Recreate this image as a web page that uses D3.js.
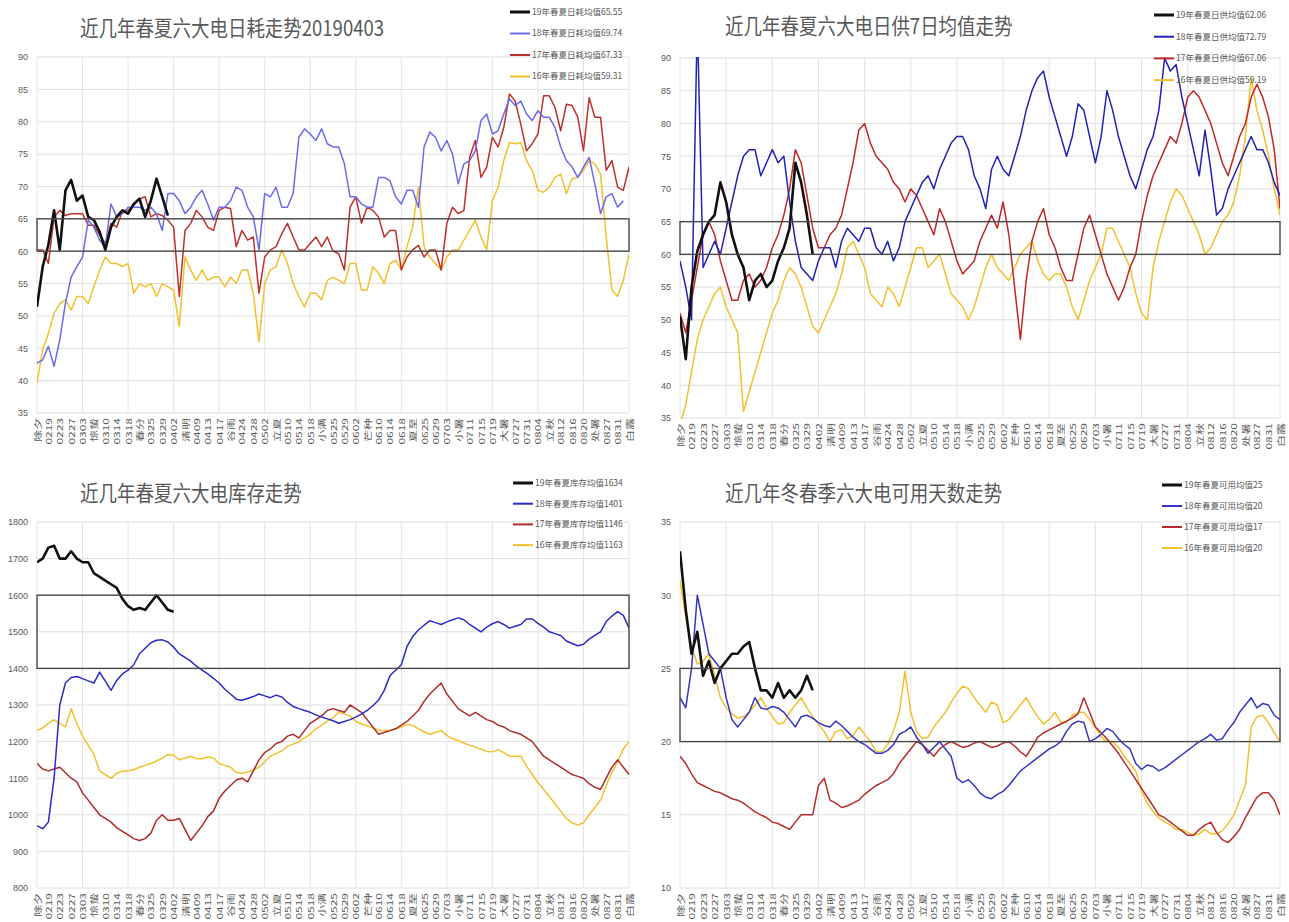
<!DOCTYPE html>
<html>
<head>
<meta charset="utf-8">
<script src="https://cdn.jsdelivr.net/npm/d3@7"></script>
<style>
  body { margin: 0; background: #ffffff; }
  svg { display: block; }
  text { font-family: "Noto Sans CJK SC", "Noto Sans", sans-serif; fill: #595959; }
</style>
</head>
<body>
<svg id="chart" width="1289" height="922"></svg>
<script>
// Category labels along the day axis (one label every 4 days)
const dateLabels = ["除夕","0219","0223","0227","0303","惊蛰","0310","0314","0318","春分","0325","0329","0402",
  "清明","0409","0413","0417","谷雨","0424","0428","0502","立夏","0510","0514","0518","小满","0525","0529",
  "0602","芒种","0610","0614","0618","夏至","0625","0629","0703","小暑","0711","0715","0719","大暑","0727",
  "0731","0804","立秋","0812","0816","0820","处暑","0827","0831","白露"];

const DAY_STEP = 2;    // every series is sampled once per 2 days
const LABEL_STEP = 4;  // one category label every 4 days
const GRID_STEP = 16;  // vertical gridline every 16 days
const LAST_DAY = 208;

// ---- 日耗 (daily consumption, 万吨) ----
const consumption19 = [51.4, 57.6, 61, 66.3, 60.2, 69.4, 71, 67.8, 68.6, 65.3, 64.8, 63, 60.2, 63.7, 65.3, 66.3,
  65.8, 67.3, 68.1, 65.3, 67.8, 71.2, 68.4, 65.5];
const consumption18 = [42.7, 43.2, 45.3, 42.2, 46.3, 52, 56, 57.6, 59.1, 64.8,
  63.7, 61.7, 60.7, 67.3, 65.3, 65.8, 66.8, 66.8, 66.8, 66.3,
  66.8, 65.8, 63.2, 68.9, 68.9, 67.8, 65.8, 66.8, 68.4, 69.4,
  67.3, 64.8, 66.8, 66.8, 67.8, 69.9, 69.4, 66.8, 65.3, 60.2,
  68.9, 68.4, 69.9, 66.8, 66.8, 68.9, 77.6, 78.9, 78.1, 77.1,
  78.9, 76.6, 76.1, 76.1, 73.5, 68.4, 68.4, 67.3, 66.8, 66.8,
  71.4, 71.4, 70.9, 68.4, 67.3, 69.4, 69.4, 66.8, 76.1, 78.4,
  77.6, 75.5, 77.1, 75, 70.4, 73.5, 74, 75.5, 80.2, 81.2,
  78.1, 78.6, 81.2, 83.5, 82.5, 83.2, 81.2, 80.2, 81.7, 80.7,
  80.7, 79.1, 76.1, 74, 73, 71.4, 73, 74.5, 70.4, 65.8,
  68.4, 68.9, 66.8, 67.8];
const consumption17 = [60.2, 60.2, 58.1, 65.3, 66.3, 65.5, 65.8, 65.8, 65.8, 64,
  64, 62.5, 61.2, 64.3, 63.7, 66.3, 66.3, 67.1, 68.1, 68.4,
  65.3, 65.8, 65.5, 64.8, 63.7, 53, 63.2, 64.3, 66.3, 65.3,
  63.7, 63.2, 66.3, 66.8, 66.6, 60.7, 63.2, 61.7, 62.2, 53.5,
  59.1, 60.2, 60.7, 62.7, 64.3, 62.2, 60.2, 60.2, 61.2, 62.2,
  60.7, 62.2, 60, 59.6, 57.1, 66.8, 68.4, 64.3, 66.8, 66.3,
  65.3, 62.2, 63.2, 63.2, 57.1, 59.1, 60.2, 60.9, 59.1, 60.2,
  60.2, 57.1, 64.3, 66.8, 65.8, 66.3, 74.5, 77.1, 71.4, 73,
  77.6, 76.1, 79.1, 84.3, 83.2, 79.6, 75.5, 76.6, 78.1, 84,
  84, 82.2, 78.6, 82.7, 82.5, 80.7, 75.5, 83.7, 80.7, 80.7,
  72.5, 74, 69.9, 69.4, 73];
const consumption16 = [39.6, 44.8, 47.3, 50.4, 51.9, 52.5, 50.9, 53, 53, 51.9,
  54.5, 57.1, 59.1, 58.1, 58.1, 57.6, 58.1, 53.5, 55, 54.5,
  55, 53, 55, 54.5, 54, 48.4, 59.1, 57.1, 55.5, 57.1,
  55.5, 56, 56, 54.5, 56, 55, 57.1, 57.1, 53.5, 46,
  55, 57.1, 57.6, 60.2, 58.1, 55, 53, 51.4, 53.5, 53.5,
  52.5, 55.5, 56, 55.5, 55, 58.1, 58.1, 54, 54, 57.6,
  56.6, 55, 58.1, 58.6, 57.1, 60.7, 63.7, 69.9, 60.7, 59.1,
  58.1, 57.1, 59.1, 60.2, 60.2, 61.7, 63.2, 64.8, 62.2, 60.2,
  67.8, 69.9, 74, 76.8, 76.6, 76.8, 74, 72.5, 69.4, 69.1,
  69.9, 71.4, 71.9, 68.9, 71.2, 71.4, 72.5, 74, 73.5, 71.9,
  62.2, 54, 53, 55.5, 59.6];
const consumptionLegend = ["19年春夏日耗均值65.55", "18年春夏日耗均值69.74", "17年春夏日耗均值67.33", "16年春夏日耗均值59.31"];

// ---- 日供7日均值 (7-day average supply) ----
const supply19 = [50.5, 44, 55, 60.5, 63, 65, 66, 71, 68, 63, 60, 58, 53, 56, 57, 55, 56, 59, 61, 64, 74, 71, 66, 60];
const supply18 = [59, 55, 50, 96, 58, 60, 62, 60, 64, 68,
  72, 75, 76, 76, 72, 74, 76, 74, 75, 68,
  62, 58, 57, 56, 59, 61, 61, 58, 62, 64,
  63, 62, 64, 64, 61, 60, 62, 59, 61, 65,
  67, 69, 71, 72, 70, 73, 75, 77, 78, 78,
  76, 72, 70, 67, 73, 75, 73, 72, 75, 78,
  82, 85, 87, 88, 84, 81, 78, 75, 78, 83,
  82, 78, 74, 78, 85, 82, 78, 75, 72, 70,
  73, 76, 78, 82, 90, 88, 89, 84, 80, 76,
  72, 79, 73, 66, 67, 70, 72, 74, 76, 78,
  76, 76, 74, 71, 69];
const supply17 = [51, 48, 53, 58, 63, 65, 63, 59, 56, 53,
  53, 56, 57, 55, 56, 58, 61, 63, 66, 70,
  76, 74, 69, 64, 61, 61, 63, 64, 66, 70,
  74, 79, 80, 77, 75, 74, 73, 71, 70, 68,
  70, 69, 67, 65, 63, 67, 65, 62, 59, 57,
  58, 59, 62, 64, 66, 64, 68, 63, 55, 47,
  56, 62, 65, 67, 63, 61, 58, 56, 56, 60,
  64, 66, 63, 60, 57, 55, 53, 55, 58, 60,
  65, 69, 72, 74, 76, 78, 77, 80, 84, 85,
  84, 82, 80, 77, 74, 72, 75, 78, 80, 84,
  86, 84, 81, 76, 67];
const supply16 = [34, 37, 42, 47, 50, 52, 54, 55, 52, 50,
  48, 36, 39, 42, 45, 48, 51, 53, 56, 58,
  57, 55, 52, 49, 48, 50, 52, 54, 57, 61,
  62, 60, 58, 54, 53, 52, 55, 54, 52, 55,
  58, 61, 61, 58, 59, 60, 57, 54, 53, 52,
  50, 52, 55, 58, 60, 58, 57, 56, 58, 60,
  61, 62, 59, 57, 56, 57, 57, 55, 52, 50,
  53, 56, 58, 60, 64, 64, 62, 60, 58, 54,
  51, 50, 58, 62, 65, 68, 70, 69, 67, 65,
  63, 60, 61, 63, 65, 66, 68, 72, 78, 87,
  82, 79, 75, 70, 66];
const supplyLegend = ["19年春夏日供均值62.06", "18年春夏日供均值72.79", "17年春夏日供均值67.06", "16年春夏日供均值59.19"];

// ---- 库存 (stock, 万吨) ----
const stock19 = [1690, 1700, 1730, 1735, 1700, 1700, 1720, 1700, 1690, 1690, 1660, 1650, 1640, 1630, 1620, 1590,
  1570, 1560, 1565, 1560, 1580, 1600, 1580, 1560, 1555];
const stock18 = [970, 962, 980, 1100, 1300, 1360, 1375, 1378, 1372, 1366,
  1360, 1390, 1365, 1340, 1367, 1385, 1395, 1410, 1440, 1455,
  1470, 1477, 1478, 1472, 1458, 1440, 1430, 1420, 1406, 1395,
  1385, 1373, 1360, 1343, 1330, 1316, 1313, 1318, 1323, 1330,
  1325, 1320, 1327, 1322, 1307, 1296, 1290, 1285, 1280, 1273,
  1267, 1262, 1257, 1250, 1255, 1260, 1267, 1275, 1285, 1298,
  1313, 1340, 1380, 1395, 1410, 1460, 1487, 1505, 1518, 1530,
  1525, 1520, 1527, 1533, 1538, 1533, 1520, 1510, 1500, 1513,
  1522, 1528, 1520, 1510, 1515, 1520, 1535, 1535, 1523, 1513,
  1500, 1495, 1490, 1475, 1468, 1462, 1466, 1480, 1490, 1500,
  1528, 1543, 1555, 1545, 1510];
const stock17 = [1140, 1125, 1120, 1125, 1130, 1115, 1100, 1090, 1060, 1040,
  1020, 1000, 990, 980, 965, 955, 945, 935, 930, 935,
  950, 985, 1000, 985, 985, 990, 960, 930, 950, 970,
  995, 1010, 1045, 1065, 1080, 1095, 1100, 1090, 1120, 1150,
  1170, 1180, 1195, 1200, 1215, 1220, 1210, 1230, 1250, 1260,
  1270, 1285, 1290, 1285, 1280, 1300, 1290, 1280, 1260, 1240,
  1220, 1225, 1230, 1235, 1245, 1255, 1270, 1285, 1310, 1330,
  1345, 1360, 1330, 1310, 1290, 1280, 1270, 1280, 1270, 1260,
  1255, 1245, 1240, 1230, 1225, 1220, 1210, 1200, 1180, 1160,
  1150, 1140, 1130, 1120, 1110, 1105, 1100, 1085, 1075, 1070,
  1100, 1130, 1150, 1130, 1110];
const stock16 = [1230, 1237, 1250, 1260, 1250, 1240, 1290, 1250, 1215, 1190,
  1165, 1120, 1110, 1100, 1113, 1120, 1120, 1123, 1130, 1135,
  1140, 1147, 1155, 1165, 1163, 1150, 1155, 1160, 1153, 1153,
  1158, 1155, 1140, 1135, 1130, 1116, 1113, 1117, 1123, 1130,
  1145, 1160, 1167, 1175, 1187, 1193, 1200, 1210, 1220, 1235,
  1245, 1255, 1265, 1280, 1275, 1270, 1255, 1248, 1243, 1237,
  1232, 1230, 1230, 1235, 1240, 1247, 1245, 1235, 1227, 1220,
  1225, 1230, 1217, 1208, 1203, 1196, 1190, 1185, 1180, 1173,
  1172, 1178, 1170, 1160, 1160, 1160, 1133, 1110, 1088, 1070,
  1050, 1030, 1010, 990, 978, 972, 978, 1000, 1020, 1040,
  1080, 1115, 1145, 1180, 1200];
const stockLegend = ["19年春夏库存均值1634", "18年春夏库存均值1401", "17年春夏库存均值1146", "16年春夏库存均值1163"];

// ---- 可用天数 (days of coal available) ----
const days19 = [33, 29, 26, 27.5, 24.5, 25.5, 24, 25, 25.5, 26, 26, 26.5, 26.8, 25, 23.5, 23.5, 23, 24, 23, 23.5,
  23, 23.5, 24.5, 23.5];
const days18 = [23, 22.3, 25, 30, 28, 26, 25.5, 25, 23, 21.5,
  21, 21.5, 22, 23, 22.3, 22.2, 22.4, 22.3, 22, 21.5,
  21, 21.7, 21.8, 21.6, 21.3, 21.1, 21, 21.4, 21.1, 20.7,
  20.3, 20, 19.8, 19.5, 19.2, 19.2, 19.4, 19.8, 20.5, 20.7,
  21, 20.3, 19.8, 19.2, 19.6, 20, 19.5, 19, 17.5, 17.2,
  17.4, 17, 16.5, 16.2, 16.1, 16.4, 16.6, 17, 17.5, 18,
  18.3, 18.6, 18.9, 19.2, 19.5, 19.7, 20, 20.7, 21.2, 21.4,
  21.3, 20, 20.2, 20.5, 20.9, 20.7, 20.2, 19.8, 19.5, 18.5,
  18.1, 18.4, 18.3, 18, 18.2, 18.5, 18.8, 19.1, 19.4, 19.7,
  20, 20.2, 20.5, 20.1, 20.2, 20.8, 21.3, 22, 22.5, 23,
  22.3, 22.6, 22.5, 21.8, 21.5];
const days17 = [19, 18.5, 17.8, 17.2, 17, 16.8, 16.6, 16.5, 16.3, 16.1,
  16, 15.8, 15.5, 15.2, 15, 14.8, 14.5, 14.4, 14.2, 14,
  14.5, 15, 15, 15, 17, 17.5, 16, 15.8, 15.5, 15.6,
  15.8, 16, 16.4, 16.7, 17, 17.2, 17.4, 17.8, 18.5, 19,
  19.5, 20, 19.8, 19.4, 19, 19.5, 19.8, 20, 19.8, 19.6,
  19.7, 19.9, 20, 19.8, 19.6, 19.7, 19.9, 20, 19.7, 19.3,
  19, 19.6, 20.3, 20.6, 20.8, 21, 21.2, 21.4, 21.6, 21.9,
  23, 22, 21, 20.6, 20.2, 19.7, 19.2, 18.6, 18, 17.4,
  16.8, 16.2, 15.6, 15, 14.8, 14.5, 14.2, 13.9, 13.6, 13.6,
  14, 14.3, 14.5, 13.8, 13.3, 13.1, 13.5, 14, 14.8, 15.5,
  16.2, 16.5, 16.5, 16, 15];
const days16 = [31, 28.5, 26.5, 25.3, 25.5, 26, 24.5, 23, 22.3, 21.9,
  21.6, 21.7, 22, 22.5, 23, 22.3, 21.7, 21.2, 21.3, 22,
  22.5, 23, 22.3, 21.7, 21.2, 20.7, 20, 20.7, 20.8, 20.2,
  20.4, 21, 20.5, 20, 19.3, 19.3, 19.8, 20.7, 22, 24.8,
  22, 20.7, 20.2, 20.3, 21, 21.5, 22, 22.7, 23.3, 23.8,
  23.6, 23, 22.5, 22, 22.7, 22.5, 21.3, 21.5, 22, 22.5,
  23, 22.3, 21.7, 21.2, 21.5, 22, 21.3, 21.3, 21.8, 22,
  22, 21.5, 21, 20.3, 20, 20, 19.6, 19, 18.5, 18,
  16.6, 15.8, 15.2, 14.8, 14.5, 14.3, 14, 14, 13.8, 13.6,
  13.7, 14, 13.7, 13.7, 13.9, 14.4, 15, 16, 17, 21,
  21.7, 21.8, 21.3, 20.6, 20];
const daysLegend = ["19年春夏可用均值25", "18年春夏可用均值20", "17年春夏可用均值17", "16年春夏可用均值20"];

// ---- panel layout ----
const panels = [
  {
    id: "consumption", title: "近几年春夏六大电日耗走势20190403", titleX: 80, titleY: 36,
    left: 37, right: 629, top: 57, bottom: 413, yMin: 35, yMax: 90, yStep: 5, band: [60, 65],
    legendX: 510, legendY: 12, legendDy: 21.5, legend: consumptionLegend,
    series: [
      { values: consumption16, color: "#f2c12e", width: 1.5 },
      { values: consumption17, color: "#c0302c", width: 1.5 },
      { values: consumption18, color: "#6b6bef", width: 1.5 },
      { values: consumption19, color: "#111111", width: 2.6 }
    ]
  },
  {
    id: "supply", title: "近几年春夏六大电日供7日均值走势", titleX: 725, titleY: 34,
    left: 680, right: 1280, top: 58, bottom: 418, yMin: 35, yMax: 90, yStep: 5, band: [60, 65],
    legendX: 1154, legendY: 15, legendDy: 21.7, legend: supplyLegend,
    series: [
      { values: supply16, color: "#f2c12e", width: 1.5 },
      { values: supply17, color: "#c0282a", width: 1.5 },
      { values: supply18, color: "#2222bb", width: 1.5 },
      { values: supply19, color: "#111111", width: 2.6 }
    ]
  },
  {
    id: "stock", title: "近几年春夏六大电库存走势", titleX: 80, titleY: 501,
    left: 37, right: 629, top: 522, bottom: 888, yMin: 800, yMax: 1800, yStep: 100, band: [1400, 1600],
    legendX: 513, legendY: 483, legendDy: 20.7, legend: stockLegend,
    series: [
      { values: stock16, color: "#f2c12e", width: 1.5 },
      { values: stock17, color: "#b02c2c", width: 1.5 },
      { values: stock18, color: "#2a2acc", width: 1.5 },
      { values: stock19, color: "#111111", width: 2.6 }
    ]
  },
  {
    id: "days", title: "近几年冬春季六大电可用天数走势", titleX: 725, titleY: 501,
    left: 680, right: 1280, top: 522, bottom: 888, yMin: 10, yMax: 35, yStep: 5, band: [20, 25],
    legendX: 1162, legendY: 485, legendDy: 21, legend: daysLegend,
    series: [
      { values: days16, color: "#f2c12e", width: 1.5 },
      { values: days17, color: "#b82c2c", width: 1.5 },
      { values: days18, color: "#3535c8", width: 1.5 },
      { values: days19, color: "#111111", width: 2.6 }
    ]
  }
];

const legendOrder = [3, 2, 1, 0];  // 19, 18, 17, 16
const svg = d3.select("#chart");

panels.forEach(p => {
  const g = svg.append("g").attr("class", "panel-" + p.id);
  const x = d3.scaleLinear().domain([0, LAST_DAY]).range([p.left, p.right]);
  const y = d3.scaleLinear().domain([p.yMin, p.yMax]).range([p.bottom, p.top]);
  const yTicks = d3.range(p.yMin, p.yMax + p.yStep / 2, p.yStep);

  // gridlines
  g.append("g").selectAll("line.h").data(yTicks).join("line")
    .attr("x1", p.left).attr("x2", p.right)
    .attr("y1", d => y(d)).attr("y2", d => y(d))
    .attr("stroke", "#dedede").attr("stroke-width", 1);
  g.append("g").selectAll("line.v").data(d3.range(0, LAST_DAY + 1, GRID_STEP)).join("line")
    .attr("x1", d => x(d)).attr("x2", d => x(d))
    .attr("y1", p.top).attr("y2", p.bottom)
    .attr("stroke", "#e4e4e4").attr("stroke-width", 1);

  // y axis
  const yAxis = g.append("g").attr("transform", `translate(${p.left},0)`)
    .call(d3.axisLeft(y).tickValues(yTicks).tickSize(0).tickPadding(9).tickFormat(d3.format("d")));
  yAxis.select(".domain").remove();
  yAxis.selectAll("text").style("font-size", "9px").attr("fill", "#6b6b6b")
    .style("font-family", "'Liberation Sans', sans-serif");

  // x axis: rotated category labels
  const labelDays = dateLabels.map((_, i) => i * LABEL_STEP);
  const xAxis = g.append("g").attr("transform", `translate(0,${p.bottom})`)
    .call(d3.axisBottom(x).tickValues(labelDays).tickSize(0).tickFormat((d, i) => dateLabels[i]));
  xAxis.select(".domain").remove();
  xAxis.selectAll("text")
    .attr("fill", "#6e6e6e")
    .style("font-size", "8px")
    .attr("text-anchor", "end")
    .attr("dy", null).attr("y", 0)
    .attr("transform", "translate(3,5) rotate(-90) scale(1.5,1)");

  // clipped series
  const clipId = "clip-" + p.id;
  g.append("clipPath").attr("id", clipId).append("rect")
    .attr("x", p.left).attr("y", p.top - 1).attr("width", p.right - p.left).attr("height", p.bottom - p.top + 2);
  const line = d3.line().x((v, i) => x(i * DAY_STEP)).y(v => y(v));
  g.append("g").attr("clip-path", `url(#${clipId})`)
    .selectAll("path").data(p.series).join("path")
    .attr("d", s => line(s.values))
    .attr("fill", "none")
    .attr("stroke", s => s.color)
    .attr("stroke-width", s => s.width)
    .attr("stroke-linejoin", "round");

  // reference band
  g.append("rect")
    .attr("x", p.left).attr("width", p.right - p.left)
    .attr("y", y(p.band[1])).attr("height", y(p.band[0]) - y(p.band[1]))
    .attr("fill", "none").attr("stroke", "#4a4a4a").attr("stroke-width", 1.4);

  // title
  g.append("text").attr("x", p.titleX).attr("y", p.titleY)
    .attr("transform", `translate(0,${p.titleY}) scale(1,1.15) translate(0,${-p.titleY})`)
    .style("font-size", "18.5px").attr("fill", "#595959").text(p.title);

  // legend
  const lg = g.append("g");
  legendOrder.forEach((si, row) => {
    const s = p.series[si];
    const ly = p.legendY + row * p.legendDy;
    lg.append("line").attr("x1", p.legendX).attr("x2", p.legendX + 20)
      .attr("y1", ly).attr("y2", ly)
      .attr("stroke", s.color).attr("stroke-width", si === 3 ? 3 : 2);
    lg.append("text").attr("x", p.legendX + 22).attr("y", ly).attr("dy", "0.35em")
      .style("font-size", "8.5px").attr("fill", "#595959").text(p.legend[row]);
  });
});
</script>
</body>
</html>
